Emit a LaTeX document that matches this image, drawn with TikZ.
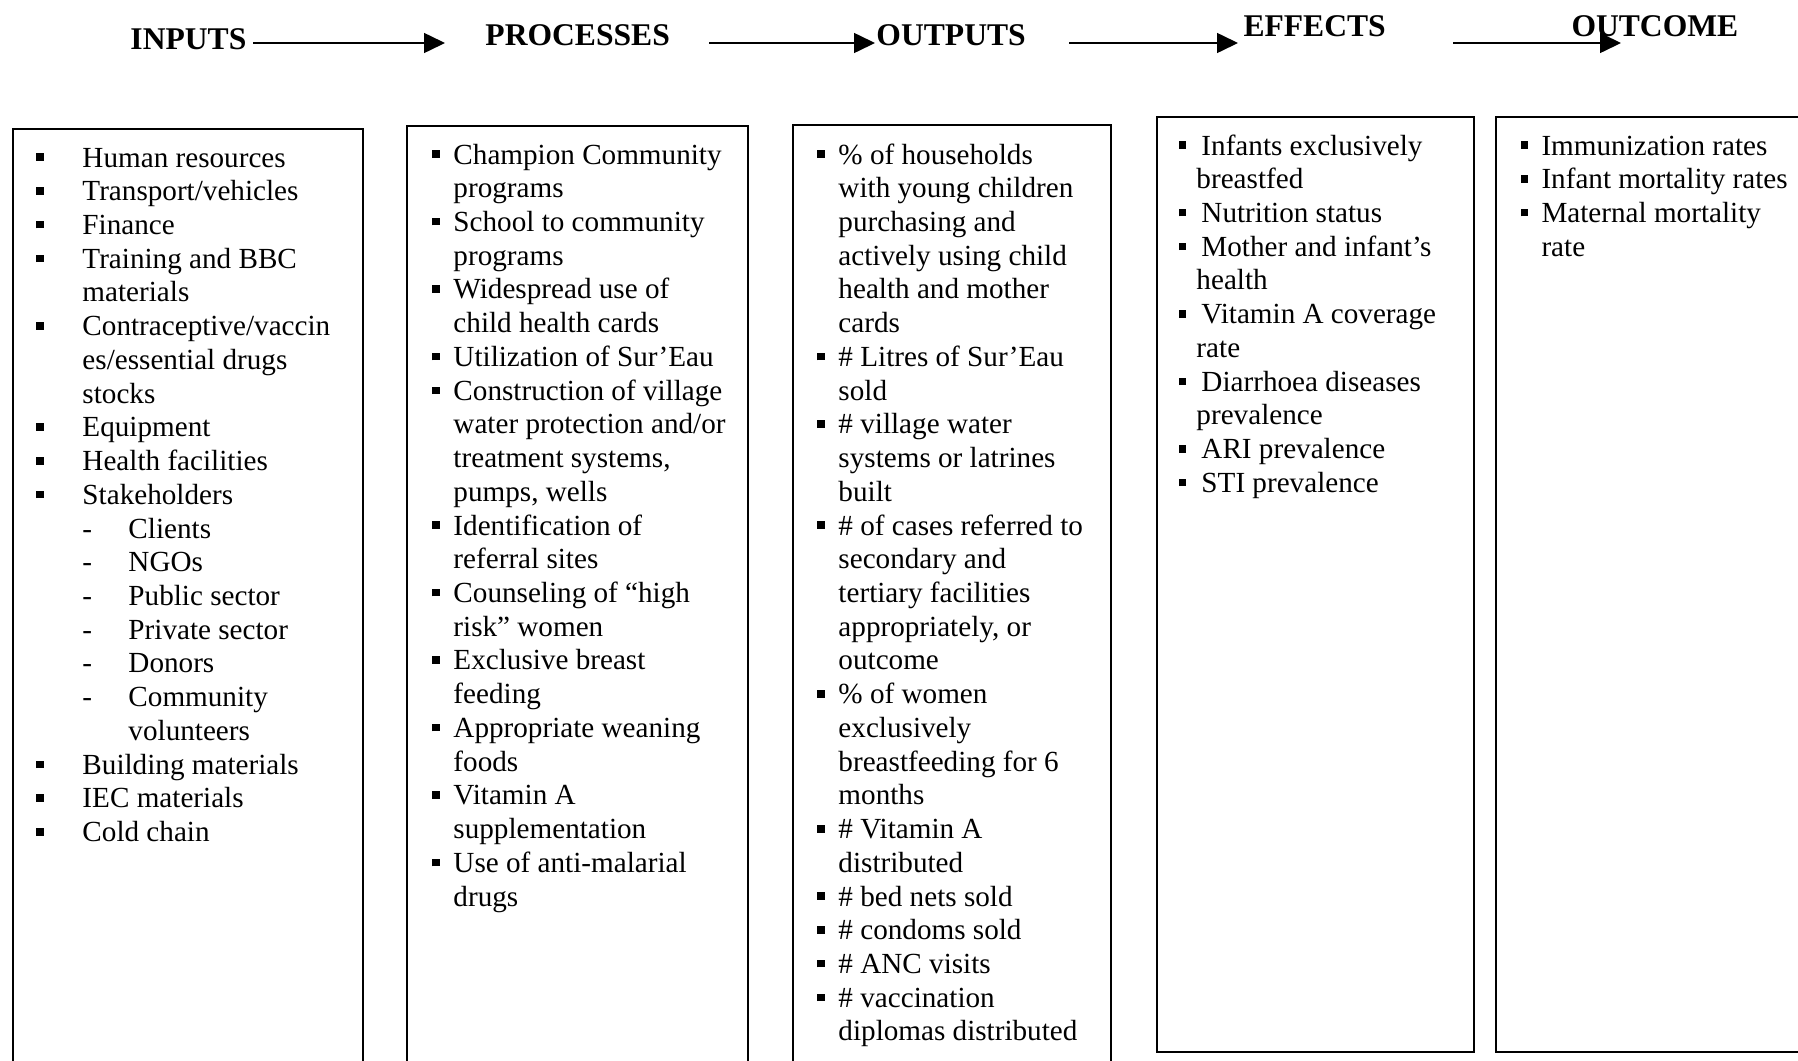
\documentclass[tikz,border=0pt]{standalone}
\usepackage{fontspec}
\setmainfont{Liberation Serif}
\usetikzlibrary{arrows.meta}
\newcommand\sqbox{\raisebox{2.5pt}{\rule{3.1pt}{3.1pt}}}
\newcommand\bul[1]{\makebox[#1][l]{\sqbox}}
\newcommand\ind[1]{\hspace*{#1}}
\newcommand\dsh{\makebox[18.93pt][l]{-}}
\begin{document}
\begin{tikzpicture}[x=0.4115pt,y=-0.4115pt,
  hdr/.style={font=\fontsize{13}{15}\selectfont\bfseries, inner sep=0pt, anchor=base west},
  col/.style={font=\fontsize{12}{13.88}\selectfont, inner sep=0pt, anchor=base west},
  arr/.style={line width=0.6pt, -{Triangle[length=8.6pt,width=8.2pt]}},
  frame/.style={line width=0.75pt}]
\useasboundingbox (0,0) rectangle (1798,1060);
\clip (0,0) rectangle (1798,1060);
\fill[white] (0,0) rectangle (1798,1060);

% headers
\node[hdr] (hin)  at (130,49)  {INPUTS};
\node[hdr] (hpr)  at (485,45)  {PROCESSES};
\node[hdr] (hout) at (876,45)  {OUTPUTS};
\node[hdr] (heff) at (1243,36) {EFFECTS};
\node[hdr] (hoc)  at (1571,36) {OUTCOME};

% arrows
\coordinate (a1s) at (253,43);  \coordinate (a1e) at (445,43);
\coordinate (a2s) at (709,43);  \coordinate (a2e) at (875,43);
\coordinate (a3s) at (1069,43); \coordinate (a3e) at (1238,43);
\coordinate (a4s) at (1453,43); \coordinate (a4e) at (1621,43);
\draw[arr] (a1s) -- (a1e);
\draw[arr] (a2s) -- (a2e);
\draw[arr] (a3s) -- (a3e);
\draw[arr] (a4s) -- (a4e);

% boxes
\draw[frame] (13,1090) -- (13,129) -- (363,129) -- (363,1090);
\draw[frame] (407,1090) -- (407,126) -- (748,126) -- (748,1090);
\draw[frame] (793,1090) -- (793,125) -- (1111,125) -- (1111,1090);
\draw[frame] (1157,117) rectangle (1474,1052);
\draw[frame] (1830,117) -- (1496,117) -- (1496,1052) -- (1830,1052);

% column 1
\node[col] (tin) at (36,167) {\begin{tabular}[t]{@{}l@{}}
\bul{18.93pt}Human resources\\
\bul{18.93pt}Transport/vehicles\\
\bul{18.93pt}Finance\\
\bul{18.93pt}Training and BBC\\
\ind{18.93pt}materials\\
\bul{18.93pt}Contraceptive/vaccin\\
\ind{18.93pt}es/essential drugs\\
\ind{18.93pt}stocks\\
\bul{18.93pt}Equipment\\
\bul{18.93pt}Health facilities\\
\bul{18.93pt}Stakeholders\\
\ind{18.93pt}\dsh Clients\\
\ind{18.93pt}\dsh NGOs\\
\ind{18.93pt}\dsh Public sector\\
\ind{18.93pt}\dsh Private sector\\
\ind{18.93pt}\dsh Donors\\
\ind{18.93pt}\dsh Community\\
\ind{37.86pt}volunteers\\
\bul{18.93pt}Building materials\\
\bul{18.93pt}IEC materials\\
\bul{18.93pt}Cold chain
\end{tabular}};

% column 2
\node[col] (tpr) at (432,164) {\begin{tabular}[t]{@{}l@{}}
\bul{8.64pt}Champion Community\\
\ind{8.64pt}programs\\
\bul{8.64pt}School to community\\
\ind{8.64pt}programs\\
\bul{8.64pt}Widespread use of\\
\ind{8.64pt}child health cards\\
\bul{8.64pt}Utilization of Sur’Eau\\
\bul{8.64pt}Construction of village\\
\ind{8.64pt}water protection and/or\\
\ind{8.64pt}treatment systems,\\
\ind{8.64pt}pumps, wells\\
\bul{8.64pt}Identification of\\
\ind{8.64pt}referral sites\\
\bul{8.64pt}Counseling of “high\\
\ind{8.64pt}risk” women\\
\bul{8.64pt}Exclusive breast\\
\ind{8.64pt}feeding\\
\bul{8.64pt}Appropriate weaning\\
\ind{8.64pt}foods\\
\bul{8.64pt}Vitamin A\\
\ind{8.64pt}supplementation\\
\bul{8.64pt}Use of anti-malarial\\
\ind{8.64pt}drugs
\end{tabular}};

% column 3
\node[col] (tout) at (817,164) {\begin{tabular}[t]{@{}l@{}}
\bul{8.64pt}\% of households\\
\ind{8.64pt}with young children\\
\ind{8.64pt}purchasing and\\
\ind{8.64pt}actively using child\\
\ind{8.64pt}health and mother\\
\ind{8.64pt}cards\\
\bul{8.64pt}\# Litres of Sur’Eau\\
\ind{8.64pt}sold\\
\bul{8.64pt}\# village water\\
\ind{8.64pt}systems or latrines\\
\ind{8.64pt}built\\
\bul{8.64pt}\# of cases referred to\\
\ind{8.64pt}secondary and\\
\ind{8.64pt}tertiary facilities\\
\ind{8.64pt}appropriately, or\\
\ind{8.64pt}outcome\\
\bul{8.64pt}\% of women\\
\ind{8.64pt}exclusively\\
\ind{8.64pt}breastfeeding for 6\\
\ind{8.64pt}months\\
\bul{8.64pt}\# Vitamin A\\
\ind{8.64pt}distributed\\
\bul{8.64pt}\# bed nets sold\\
\bul{8.64pt}\# condoms sold\\
\bul{8.64pt}\# ANC visits\\
\bul{8.64pt}\# vaccination\\
\ind{8.64pt}diplomas distributed
\end{tabular}};

% column 4
\node[col] (teff) at (1178,155) {\begin{tabular}[t]{@{}l@{}}
\bul{9.46pt}Infants exclusively\\
\ind{7.4pt}breastfed\\
\bul{9.46pt}Nutrition status\\
\bul{9.46pt}Mother and infant’s\\
\ind{7.4pt}health\\
\bul{9.46pt}Vitamin A coverage\\
\ind{7.4pt}rate\\
\bul{9.46pt}Diarrhoea diseases\\
\ind{7.4pt}prevalence\\
\bul{9.46pt}ARI prevalence\\
\bul{9.46pt}STI prevalence
\end{tabular}};

% column 5
\node[col] (toc) at (1520,155) {\begin{tabular}[t]{@{}l@{}}
\bul{8.64pt}Immunization rates\\
\bul{8.64pt}Infant mortality rates\\
\bul{8.64pt}Maternal mortality\\
\ind{8.64pt}rate
\end{tabular}};
\end{tikzpicture}
\end{document}
